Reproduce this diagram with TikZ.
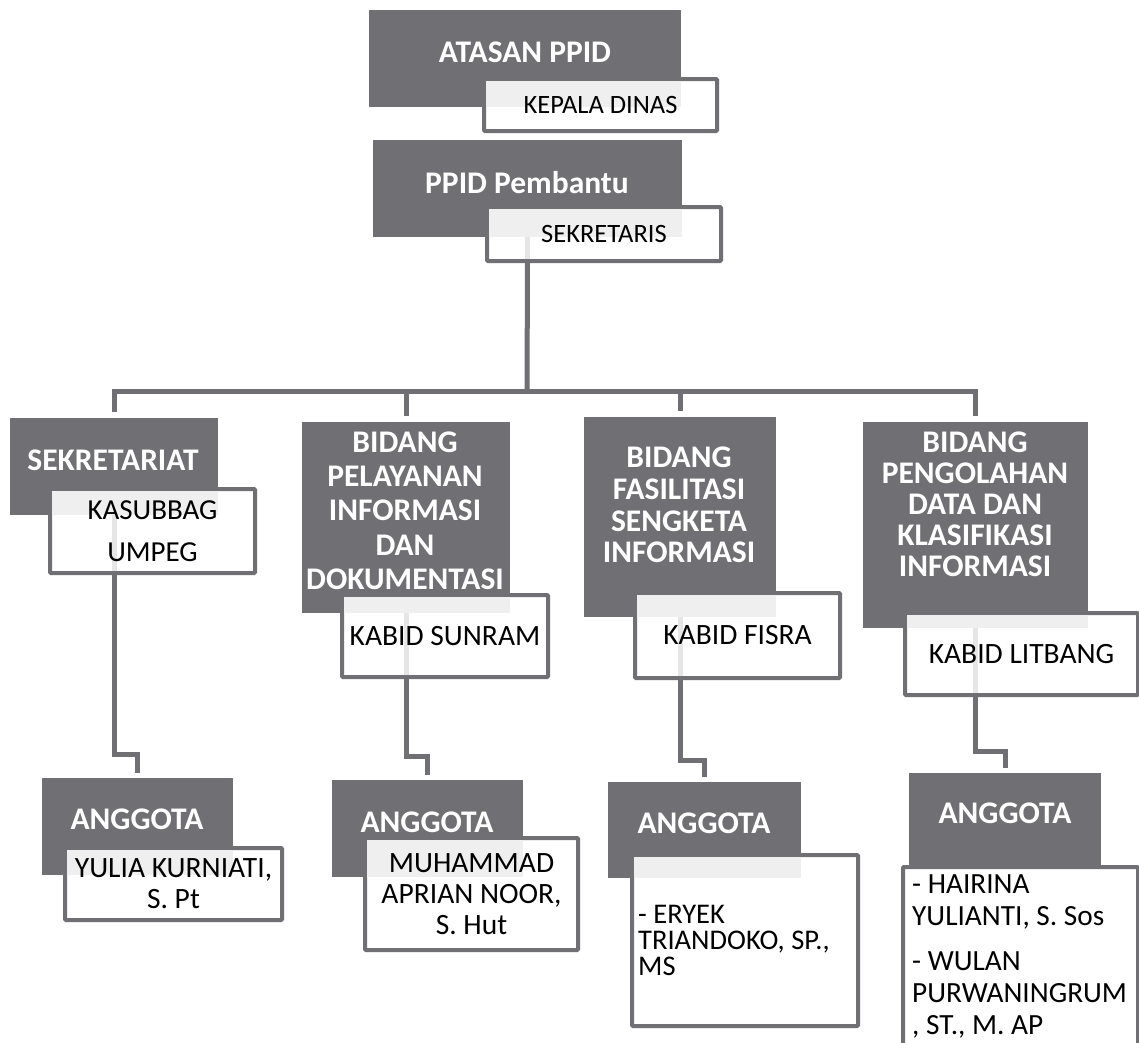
\documentclass[tikz,border=0pt]{standalone}
\usepackage{fontspec}
\setmainfont{Carlito}
\usetikzlibrary{calc}
\definecolor{dk}{RGB}{112,111,116}
\definecolor{ov}{RGB}{239,239,239}
\definecolor{fl}{RGB}{230,230,230}
\tikzset{
  darkbox/.style={fill=dk, draw=none, inner sep=0pt, outer sep=0pt, anchor=north west},
  whitebox/.style={fill=white, draw=dk, line width=4pt, inner sep=0pt, outer sep=0pt, anchor=north west, rounded corners=1pt},
  conn/.style={draw=dk, line width=5pt},
  faint/.style={draw=fl, line width=5pt, shorten >=2pt},
  ovl/.style={fill=ov},
  hd/.style={text=white, font=\bfseries\fontsize{31.5}{33}\selectfont, align=center, inner sep=0pt},
  st/.style={text=black, font=\fontsize{29.5}{31}\selectfont, align=center, inner sep=0pt},
}
\begin{document}
\begin{tikzpicture}[x=1pt,y=-1pt]
\path[fill=white] (0,0) rectangle (1139,1042);
\useasboundingbox (0,0) rectangle (1139,1042);

% dark boxes
\node[darkbox, minimum width=312pt, minimum height=97pt] (atd) at (369,10) {};
\node[darkbox, minimum width=309pt, minimum height=97pt] (pbd) at (373,140) {};
\node[darkbox, minimum width=208pt, minimum height=97pt] (skd) at (10,418) {};
\node[darkbox, minimum width=208pt, minimum height=191pt] (pld) at (302,422) {};
\node[darkbox, minimum width=192pt, minimum height=200pt] (fsd) at (584,417) {};
\node[darkbox, minimum width=225pt, minimum height=206pt] (pgd) at (863,422) {};
\node[darkbox, minimum width=191pt, minimum height=97pt] (a1d) at (42,778) {};
\node[darkbox, minimum width=191pt, minimum height=97pt] (a2d) at (332,780) {};
\node[darkbox, minimum width=193pt, minimum height=96pt] (a3d) at (608,782) {};
\node[darkbox, minimum width=192pt, minimum height=94pt] (a4d) at (909,773) {};

% white boxes
\node[whitebox, minimum width=233pt, minimum height=52pt] (atw) at (484,79) {};
\node[whitebox, minimum width=234pt, minimum height=54pt] (pbw) at (487,207) {};
\node[whitebox, minimum width=205pt, minimum height=84pt] (skw) at (50,489) {};
\node[whitebox, minimum width=206pt, minimum height=82pt] (plw) at (342,595) {};
\node[whitebox, minimum width=205pt, minimum height=85pt] (fsw) at (635,593) {};
\node[whitebox, minimum width=233pt, minimum height=82pt] (pgw) at (905,613) {};
\node[whitebox, minimum width=217pt, minimum height=72pt] (a1w) at (65,848) {};
\node[whitebox, minimum width=213pt, minimum height=112pt] (a2w) at (365,838) {};
\node[whitebox, minimum width=226pt, minimum height=171pt] (a3w) at (632,855) {};
\node[whitebox, minimum width=235pt, minimum height=178pt] (a4w) at (903,867) {};

% translucent overlaps
\foreach \w/\d in {atw/atd, pbw/pbd, skw/skd, plw/pld, fsw/fsd, pgw/pgd, a1w/a1d, a2w/a2d, a3w/a3d}
  \fill[ovl] ($(\w.north west)+(2,2)$) rectangle (\d.south east);

% connectors seen through the white boxes
\draw[faint] (pbd.south) -- (pbw.south -| pbd.south);
\draw[faint] (skd.south) -- (skw.south -| skd.south);
\draw[faint] (pld.south) -- (plw.south -| pld.south);
\draw[faint] (fsd.south) -- (fsw.south -| fsd.south);
\draw[faint] (pgd.south) -- (pgw.south -| pgd.south);

% heading texts
\node[hd] (tat) at (525,52) {ATASAN PPID};
\node[hd] (tpb) at (527,183) {PPID Pembantu};
\node[hd] (tsk) at (113,460) {SEKRETARIAT};
\node[hd, font=\bfseries\fontsize{31.5}{34.3}\selectfont] (tpl) at (405,510.5) {BIDANG\\PELAYANAN\\INFORMASI\\DAN\\DOKUMENTASI};
\node[hd, font=\bfseries\fontsize{31.5}{31.7}\selectfont] (tfs) at (679,505) {BIDANG\\FASILITASI\\SENGKETA\\INFORMASI};
\node[hd, font=\bfseries\fontsize{31.5}{31}\selectfont] (tpg) at (975,504) {BIDANG\\PENGOLAHAN\\DATA DAN\\KLASIFIKASI\\INFORMASI};
\node[hd] (ta1) at (137,819) {ANGGOTA};
\node[hd] (ta2) at (427,822) {ANGGOTA};
\node[hd] (ta3) at (704,823) {ANGGOTA};
\node[hd] (ta4) at (1005,813) {ANGGOTA};

% white box texts
\node[st, font=\fontsize{26.5}{30}\selectfont] (tatw) at (atw.center) {KEPALA DINAS};
\node[st, font=\fontsize{26.5}{30}\selectfont] (tpbw) at (pbw.center) {SEKRETARIS};
\node[st, font=\fontsize{29}{42}\selectfont] (tskw) at (skw.center) {KASUBBAG\\UMPEG};
\node[st] (tplw) at (plw.center) {KABID SUNRAM};
\node[st] (tfsw) at (fsw.center) {KABID FISRA};
\node[st] (tpgw) at (pgw.center) {KABID LITBANG};
\node[st] (ta1w) at (a1w.center) {YULIA KURNIATI,\\S. Pt};
\node[st] (ta2w) at (a2w.center) {MUHAMMAD\\APRIAN NOOR,\\S. Hut};
\node[st, font=\fontsize{28.5}{26}\selectfont, align=left, anchor=west] (ta3w) at ($(a3w.west)+(6,0)$) {- ERYEK\\TRIANDOKO, SP.,\\MS};
\node[st, font=\fontsize{29.3}{32}\selectfont, align=left, anchor=west] (ta4w) at ($(a4w.west)+(9,0)$) {- HAIRINA\\YULIANTI, S. Sos\\[13pt]- WULAN\\PURWANINGRUM\\, ST., M. AP};

% connectors
\coordinate (bus) at (527,391);
\draw[conn] (pbw.south -| pbd.south) -- (bus);
\draw[conn] ($(skd.north)+(0,-6)$) |- (pgd.north |- bus) -- ($(pgd.north)+(0,-6)$);
\draw[conn] (pld.north |- bus) -- ($(pld.north)+(0,-6)$);
\draw[conn] (fsd.north |- bus) -- ($(fsd.north)+(0,-6)$);

\draw[conn] (skw.south -| skd.south) |- ($(a1d.north)+(0,-24)$) -- ($(a1d.north)+(0,-5)$);
\draw[conn] (plw.south -| pld.south) |- ($(a2d.north)+(0,-24)$) -- ($(a2d.north)+(0,-5)$);
\draw[conn] (fsw.south -| fsd.south) |- ($(a3d.north)+(0,-22)$) -- ($(a3d.north)+(0,-5)$);
\draw[conn] (pgw.south -| pgd.south) |- ($(a4d.north)+(0,-22)$) -- ($(a4d.north)+(0,-5)$);
\end{tikzpicture}
\end{document}
